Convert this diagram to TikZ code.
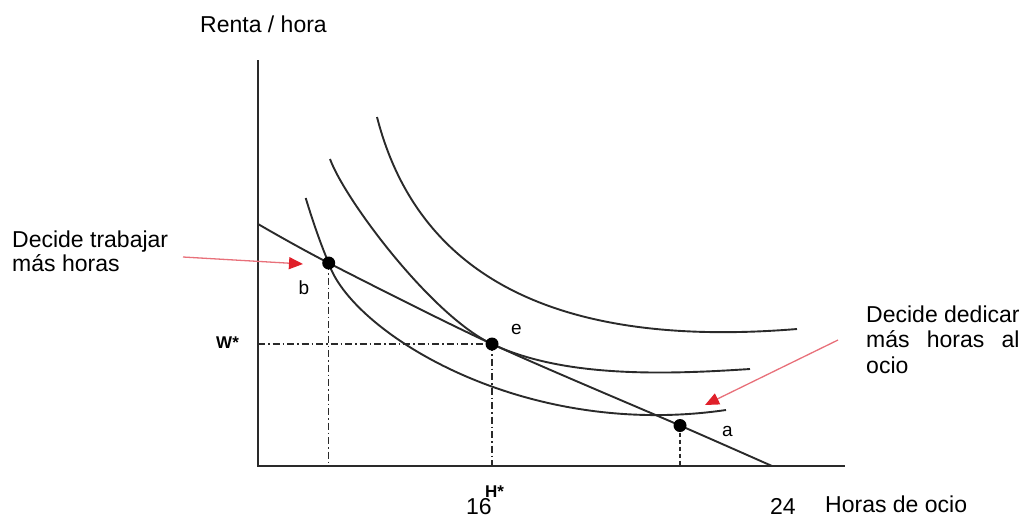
\documentclass[tikz,border=0pt]{standalone}
\usepackage{fontspec}
\setmainfont{Liberation Sans}
\usepackage{calc}
\usetikzlibrary{arrows.meta}
\definecolor{ink}{HTML}{2A2A2A}
\definecolor{pinkline}{HTML}{E8707A}
\definecolor{redhead}{HTML}{E0202A}
\tikzset{
  axisline/.style={draw=ink, line width=2pt},
  icurve/.style={draw=ink, line width=1.9pt},
  budget/.style={draw=ink, line width=1.9pt},
  dotpt/.style={circle, fill=black, inner sep=0pt, minimum size=13pt},
  guide/.style={draw=ink, line width=1.1pt, dash pattern=on 7pt off 3pt on 1.5pt off 3pt},
  guided/.style={draw=ink, line width=1.1pt, dash pattern=on 4pt off 3pt},
  callout/.style={draw=pinkline, line width=1.3pt, -{Triangle[length=14pt,width=12pt,color=redhead]}},
  lbl/.style={font=\fontsize{23}{25}\selectfont, inner sep=0pt},
  ptlbl/.style={font=\fontsize{19}{20}\selectfont, inner sep=0pt},
  starlbl/.style={font=\fontsize{17}{18}\selectfont\bfseries, inner sep=0pt},
}
\begin{document}
\begin{tikzpicture}[x=1pt,y=-1pt]
\useasboundingbox (0,0) rectangle (1022,517);
% key coordinates
\coordinate (O) at (258,466);
\coordinate (Ytop) at (258,60);
\coordinate (Xend) at (845,466);
\coordinate (B0) at (258,224);
\coordinate (B1) at (772,466);
\coordinate (pb) at (328.7,263);
\coordinate (pe) at (492,344);
\coordinate (pa) at (680,425.5);
\coordinate (bx) at (328.7,466);
\coordinate (ex) at (492,466);
\coordinate (ax) at (680,466);
\coordinate (wy) at (258,344);
\coordinate (S1) at (305.7,198);
\coordinate (E1) at (726,410);
\coordinate (S2) at (330,159);
\coordinate (E2) at (750,369);
\coordinate (S3) at (377,117);
\coordinate (E3) at (797,329);
% axes
\draw[axisline] (Ytop) -- (O) -- (Xend);
% guide lines
\draw[guide] (pb) -- (bx);
\draw[guide] (pe) -- (ex);
\draw[guide] (wy) -- (pe);
\draw[guided] (pa) -- (ax);
% indifference curves
\draw[icurve] (S1) .. controls (313,222) and (321,245) .. (pb)
               .. controls (350,330) and (520,440) .. (E1);
\draw[icurve] (S2) .. controls (345,200) and (432,316) .. (pe)
               .. controls (562,377) and (660,375) .. (E2);
\draw[icurve] (S3) .. controls (415,265) and (540,350) .. (E3);
% budget line
\draw[budget] plot[smooth, tension=0.5] coordinates {(B0) (pb) (pe) (pa) (B1)};
% points
\node[dotpt] (b) at (pb) {};
\node[dotpt] (e) at (pe) {};
\node[dotpt] (a) at (pa) {};
% point labels
\node[ptlbl] (lb) at (304,288) {b};
\node[ptlbl] (le) at (516.5,329.5) {e};
\node[ptlbl] (la) at (727.5,431) {a};
% axis labels
\node[lbl, anchor=base west] (ylab) at (200,32) {Renta / hora};
\node[lbl, anchor=base west] (xlab) at (825,512) {Horas de ocio};
\node[lbl, anchor=base west] (t16) at (466,514) {16};
\node[lbl, anchor=base west] (t24) at (770,514) {24};
\node[starlbl, anchor=base west] (hs) at (485,497) {H*};
\node[starlbl, anchor=base west] (ws) at (216,348) {W*};
% left annotation
\node[lbl, anchor=base west] (lt1) at (12,247) {Decide trabajar};
\node[lbl, anchor=base west] (lt2) at (12,271) {más horas};
\coordinate (la0) at (183,257);
\coordinate (la1) at (303,264);
\draw[callout] (la0) -- (la1);
% right annotation
\node[lbl, anchor=base west] (rt1) at (866,322) {Decide dedicar};
\node[lbl, anchor=base west] (rt2) at (866,347) {\makebox[\widthof{Decide dedicar}][s]{más horas al}};
\node[lbl, anchor=base west] (rt3) at (866,373) {ocio};
\coordinate (ra0) at (838,340);
\coordinate (ra1) at (705,405);
\draw[callout] (ra0) -- (ra1);
\end{tikzpicture}
\end{document}
